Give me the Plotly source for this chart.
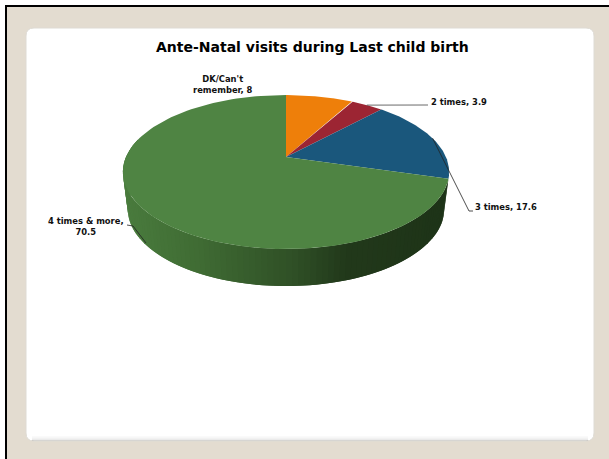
import numpy as np
import plotly.graph_objects as go

categories = ["DK/Can't remember", "2 times", "3 times", "4 times & more"]
values = [8, 3.9, 17.6, 70.5]
slice_colors = ["#EE7F0A", "#9C2533", "#1A577C", "#4F8443"]
title_text = "Ante-Natal visits during Last child birth"
label_texts = ["DK/Can't<br>remember, 8", "2 times, 3.9", "3 times, 17.6", "4 times &amp; more,<br>70.5"]

W, H = 609, 459
FONT = "DejaVu Sans, Verdana, sans-serif"
CX, CY, A, B, K, DEPTH, BASE_X = 286, 157, 160, 74.1, 0.195, 37, 0.97
SIDE_X = [123, 200, 300, 350, 449]
SIDE_RGB = [(74, 124, 62), (64, 108, 52), (47, 79, 38), (34, 57, 27), (30, 52, 24)]


def project(theta, depth=0.0, xscale=1.0):
    u, v = np.sin(theta), np.cos(theta)
    w = 1 + K * v
    return CX + xscale * A * u / w, CY - B * v / w + depth


def poly(x, y, color):
    return go.Scatter(
        x=list(x), y=list(y), mode="lines", fill="toself", fillcolor=color,
        line=dict(color=color, width=0), hoverinfo="skip", showlegend=False,
    )


fig = go.Figure()
bounds = np.cumsum([0] + values) / sum(values) * 2 * np.pi

# side wall of the last slice: short overlapping pieces, so no seams or dark fringes show
t_lo, t_hi = bounds[3], 2 * np.pi * 0.79
edges = np.linspace(t_lo, t_hi, 100)
for i in range(len(edges) - 1):
    a, b = edges[i], edges[min(i + 2, len(edges) - 1)]
    ts = np.linspace(a, b, 6)
    x0, y0 = project(ts)
    x1, y1 = project(ts[::-1], DEPTH, BASE_X)
    xm = float(project(a)[0])
    rgb = [np.interp(xm, SIDE_X, [c[k] for c in SIDE_RGB]) for k in range(3)]
    col = "rgb(%d,%d,%d)" % tuple(rgb)
    fig.add_trace(poly(np.r_[x0, x1], np.r_[y0, y1], col))

# top faces
for i in range(len(values)):
    ts = np.linspace(bounds[i], bounds[i + 1], 120)
    x, y = project(ts)
    fig.add_trace(poly(np.r_[CX, x, CX], np.r_[CY, y, CY], slice_colors[i]))

# leader lines start at each slice's mid angle
mids = (bounds[:-1] + bounds[1:]) / 2
mx, my = project(mids)
leaders = [
    ([float(mx[1]), 428], [float(my[1]), 105], "#444444"),
    ([float(mx[2]), 469, 473], [float(my[2]), 211, 211], "#222222"),
    ([127, 133, 146], [225, 226, 243], "#222222"),
]
for lx, ly, lc in leaders:
    fig.add_trace(go.Scatter(x=lx, y=ly, mode="lines", line=dict(color=lc, width=0.8),
                             hoverinfo="skip", showlegend=False))

r = 8
L, T, R_, Bt = 26, 28, 594, 441
panel = (f"M{L+r},{T} L{R_-r},{T} Q{R_},{T} {R_},{T+r} L{R_},{Bt-r} Q{R_},{Bt} {R_-r},{Bt} "
         f"L{L+r},{Bt} Q{L},{Bt} {L},{Bt-r} L{L},{T+r} Q{L},{T} {L+r},{T} Z")

shapes = [
    dict(type="rect", x0=5, y0=5, x1=W, y1=H, fillcolor="#E3DCD0", line_width=0, layer="below"),
    dict(type="rect", x0=5, y0=5, x1=W, y1=7, fillcolor="#000000", line_width=0, layer="below"),
    dict(type="rect", x0=5, y0=5, x1=7, y1=H, fillcolor="#000000", line_width=0, layer="below"),
    dict(type="path", path=panel, fillcolor="#FFFFFF", line=dict(color="#DEDBD4", width=1), layer="below"),
]
for k, op in enumerate([0.03, 0.05, 0.08, 0.12, 0.16]):
    shapes.append(dict(type="rect", x0=L + 6, x1=R_ - 6, y0=Bt - 5 + k, y1=Bt - 4 + k,
                       fillcolor=f"rgba(90,90,90,{op})", line_width=0, layer="below"))

anns = [
    dict(x=312, y=47, text=f"<b>{title_text}</b>", xanchor="center", yanchor="middle",
         font=dict(size=14, color="#000000", family=FONT)),
    dict(x=223, y=84, text=f"<b>{label_texts[0]}</b>", xanchor="center", yanchor="middle", align="center"),
    dict(x=430, y=102, text=f"<b>{label_texts[1]}</b>", xanchor="left", yanchor="middle"),
    dict(x=474, y=207, text=f"<b>{label_texts[2]}</b>", xanchor="left", yanchor="middle"),
    dict(x=86, y=226, text=f"<b>{label_texts[3]}</b>", xanchor="center", yanchor="middle", align="center"),
]
for a in anns:
    a.update(xref="x", yref="y", showarrow=False, borderpad=0)
    a.setdefault("font", dict(size=8.4, color="#111111", family=FONT))

fig.update_layout(
    width=W, height=H, margin=dict(l=0, r=0, t=0, b=0), autosize=False,
    paper_bgcolor="#FFFFFF", plot_bgcolor="rgba(0,0,0,0)", showlegend=False,
    xaxis=dict(range=[0, W], visible=False, fixedrange=True),
    yaxis=dict(range=[H, 0], visible=False, fixedrange=True),
    shapes=shapes, annotations=anns,
)
fig.write_html("out.html", config={"displayModeBar": False}, include_plotlyjs=True,
               default_width=f"{W}px", default_height=f"{H}px",
               post_script="document.body.style.margin='0';")
